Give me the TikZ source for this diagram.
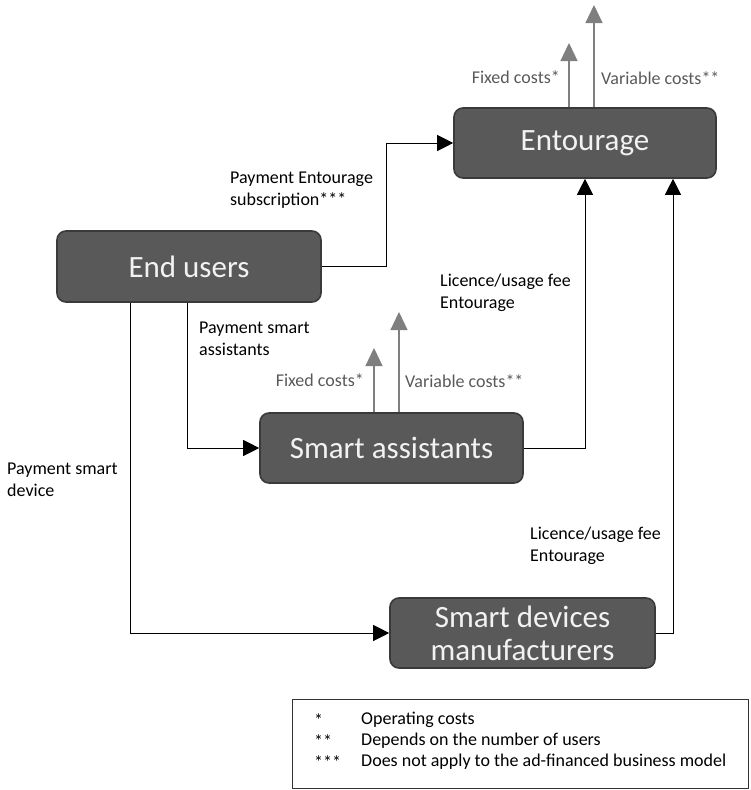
\documentclass[tikz,border=0pt]{standalone}
\usepackage{fontspec}
\setmainfont{Carlito}
\usetikzlibrary{arrows.meta,calc}
\definecolor{boxfill}{HTML}{595959}
\definecolor{boxedge}{HTML}{3A3A3A}
\definecolor{costgray}{HTML}{7F7F7F}
\definecolor{costtext}{HTML}{595959}
\tikzset{
  actor/.style={draw=boxedge, line width=1.6pt, fill=boxfill, rounded corners=9pt,
    text=white!95!black, font=\fontsize{31}{33}\selectfont, align=center, inner sep=0pt},
  flow/.style={draw=black, line width=0.8pt, -{Triangle[width=16pt,length=16pt]}},
  cost/.style={draw=costgray, line width=1.2pt, -{Triangle[width=17pt,length=18pt]}, color=costgray},
  lbl/.style={font=\fontsize{18}{22}\selectfont, align=left, inner sep=0pt},
  costlbl/.style={font=\fontsize{18}{20}\selectfont, text=costtext, inner sep=0pt},
  legend/.style={font=\fontsize{18}{21}\selectfont, inner sep=0pt, anchor=west}
}
\begin{document}
\begin{tikzpicture}[x=1pt,y=-1pt]
\useasboundingbox (0,0) rectangle (750,790);
% boxes
\node[actor, minimum width=262pt, minimum height=70pt] (ent) at (585,143) {Entourage};
\node[actor, minimum width=264pt, minimum height=71pt] (eu) at (189,266.5) {End users};
\node[actor, minimum width=263pt, minimum height=70pt] (sa) at (391.5,448) {Smart assistants};
\node[actor, minimum width=265pt, minimum height=70pt, font=\fontsize{31}{33}\selectfont] (sd) at (522.5,633) {Smart devices\\manufacturers};
% connectors
\draw[flow] (eu.east) -- (386,266.5) |- (ent.west);
\draw[flow] ([xshift=-2pt]eu.south) |- (sa.west);
\draw[flow] ([xshift=-59pt]eu.south) |- (sd.west);
\draw[flow] (sa.east) -| (ent.south);
\draw[flow] (sd.east) -| ([xshift=88pt]ent.south);
% cost arrows
\coordinate (ef) at (569,43);
\coordinate (ev) at (594,5);
\coordinate (sf) at (374,348);
\coordinate (sv) at (399,312);
\draw[cost] ([xshift=-16pt]ent.north) -- (ef);
\draw[cost] ([xshift=9pt]ent.north) -- (ev);
\draw[cost] ([xshift=-17.5pt]sa.north) -- (sf);
\draw[cost] ([xshift=7.5pt]sa.north) -- (sv);
% cost labels
\node[costlbl, anchor=east] (efl) at (560,77) {Fixed costs*};
\node[costlbl, anchor=west] (evl) at (601,78) {Variable costs**};
\node[costlbl, anchor=east] (sfl) at (364,380) {Fixed costs*};
\node[costlbl, anchor=west] (svl) at (405,381) {Variable costs**};
% flow labels
\node[lbl, anchor=north west] (l1) at (230,172) {Payment Entourage\\subscription***};
\node[lbl, anchor=north west] (l2) at (440,274) {Licence/usage fee\\Entourage};
\node[lbl, anchor=north west] (l3) at (199,322) {Payment smart\\assistants};
\node[lbl, anchor=north west] (l4) at (7,463) {Payment smart\\device};
\node[lbl, anchor=north west] (l5) at (530,527) {Licence/usage fee\\Entourage};
% legend
\node[draw=black!80, line width=0.8pt, minimum width=456pt, minimum height=89pt, anchor=north west, inner sep=0pt] (leg) at (292,699) {};
\node[legend] (s1) at (314,720) {*};
\node[legend] (s2) at (314,741) {**};
\node[legend] (s3) at (314,762) {***};
\node[legend] (t1) at (361,720) {Operating costs};
\node[legend] (t2) at (361,741) {Depends on the number of users};
\node[legend] (t3) at (361,762) {Does not apply to the ad-financed business model};
\end{tikzpicture}
\end{document}
